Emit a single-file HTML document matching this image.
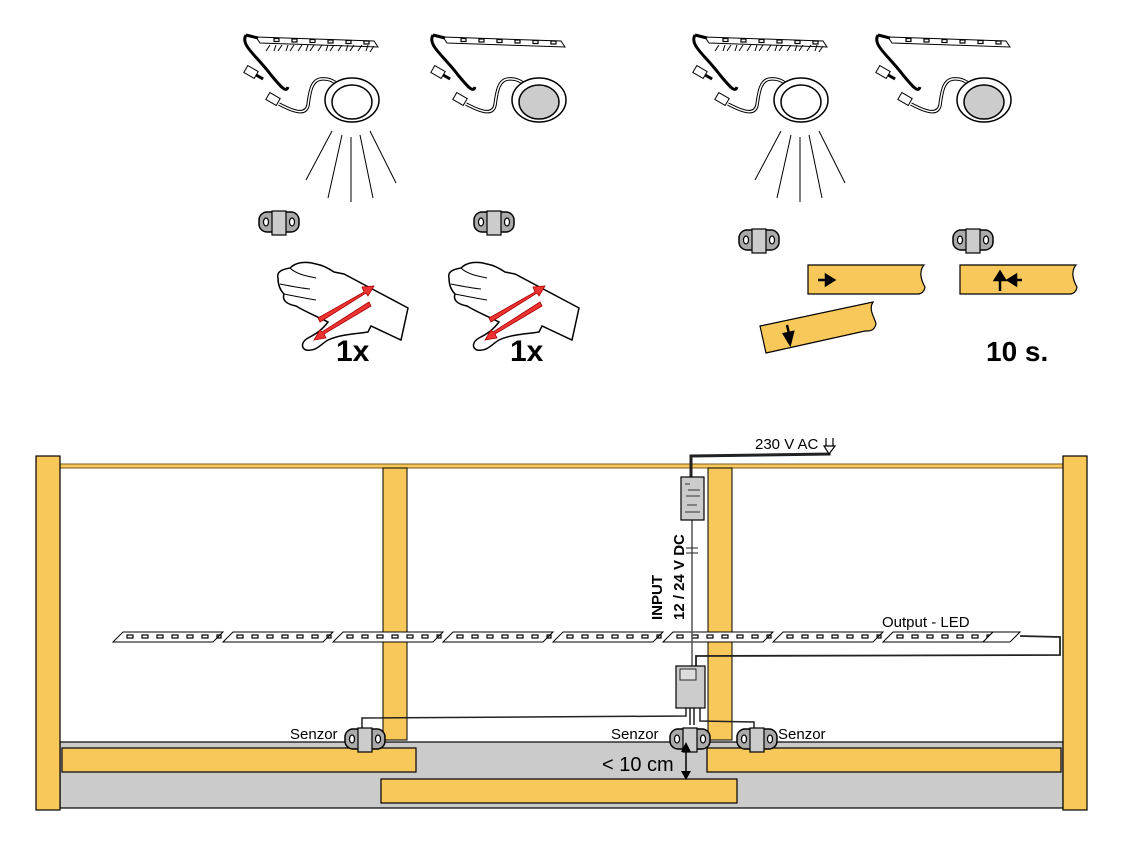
<!DOCTYPE html>
<html><head><meta charset="utf-8"><style>
html,body{margin:0;padding:0;background:#fff}
svg{display:block}
text{font-family:"Liberation Sans",sans-serif}
</style></head><body>
<svg width="1122" height="852" viewBox="0 0 1122 852" xmlns="http://www.w3.org/2000/svg">
<defs>
  <g id="strip">
    <path d="M10,2 L128,6 L132,12 L14,8 Z" fill="#fff" stroke="#000" stroke-width="1"/>
    <g fill="none" stroke="#000" stroke-width="1.2">
      <rect x="28" y="3.5" width="5" height="3"/><rect x="46" y="4" width="5" height="3"/><rect x="64" y="4.5" width="5" height="3"/><rect x="82" y="5" width="5" height="3"/><rect x="100" y="5.5" width="5" height="3"/><rect x="118" y="6" width="5" height="3"/>
    </g>
    <path d="M0,0 C-6,10 10,20 25,40 C35,52 40,58 42,52" fill="none" stroke="#000" stroke-width="3"/>
    <path d="M0,0 L12,3" stroke="#000" stroke-width="3"/>
    <g transform="translate(5,37) rotate(30)"><rect x="-6" y="-4" width="12" height="8" fill="#fff" stroke="#000"/><line x1="6" y1="0" x2="14" y2="0" stroke="#000" stroke-width="3"/></g>
    <g transform="translate(27,64) rotate(30)"><rect x="-6" y="-4" width="12" height="8" fill="#fff" stroke="#000"/></g>
    <path d="M33,69 C50,78 60,80 62,70 C64,55 66,45 75,44 C85,43 90,48 95,52" fill="none" stroke="#000" stroke-width="3.5"/>
    <path d="M33,69 C50,78 60,80 62,70 C64,55 66,45 75,44 C85,43 90,48 95,52" fill="none" stroke="#fff" stroke-width="1.5"/>
    <ellipse cx="106" cy="65" rx="27" ry="22" fill="#fff" stroke="#000" stroke-width="1.5"/>
  </g>
  <g id="rays" fill="none" stroke="#000" stroke-width="1">
    <path d="M24,10 L20,16 M30,10 L28,16 M36,10 L32,16 M42,10 L40,16 M48,10 L44,16 M56,10 L52,16 M62,10 L60,16 M68,10 L64,16 M76,10 L72,16 M82,10 L80,16 M88,10 L84,16 M96,10 L92,16 M102,10 L100,16 M108,10 L104,16 M116,10 L112,16 M122,10 L120,16 M128,11 L124,17"/>
    <path d="M86,96 L60,145 M96,100 L82,163 M105,102 L105,167 M114,100 L127,163 M124,96 L150,148"/>
  </g>
  <g id="sensor">
    <rect x="0" y="0" width="40" height="20" rx="8" fill="#aaa" stroke="#000" stroke-width="1.5"/>
    <rect x="13" y="-1" width="14" height="24" fill="#ccc" stroke="#000" stroke-width="1.2"/>
    <ellipse cx="7" cy="10" rx="2.5" ry="4" fill="#fff" stroke="#000" stroke-width="1.2"/>
    <ellipse cx="33" cy="10" rx="2.5" ry="4" fill="#fff" stroke="#000" stroke-width="1.2"/>
  </g>
  <g id="hand">
    <path d="M2,22 C0,15 8,13 14,12 C20,6 30,5 40,8 C46,9 52,12 58,16 L68,18 L132,52 L125,84 L95,70 L92,76 C80,78 65,78 52,84 C45,88 40,96 30,94 C25,92 25,86 32,82 C40,78 46,74 52,66 C40,60 30,56 20,50 C10,48 6,44 8,38 C4,34 2,28 2,22 Z" fill="#fff" stroke="#000" stroke-width="1.5"/>
    <path d="M14,12 C20,18 30,20 40,22 M4,28 C14,30 24,32 34,33 M8,38 C18,40 28,42 40,44" fill="none" stroke="#000" stroke-width="1"/>
    <path d="M42,62 L88,36 L86,31 L98,30 L92,40 L90,37 L44,66 Z" fill="#e33" stroke="#a00" stroke-width="0.8"/>
    <path d="M95,50 L48,78 L50,82 L38,84 L44,74 L46,76 L93,46 Z" fill="#e33" stroke="#a00" stroke-width="0.8"/>
  </g>
  <g id="led">
    <path d="M0,10 L10,0 L110,0 L100,10 Z" fill="#fff" stroke="#000" stroke-width="1"/>
    <g fill="none" stroke="#000" stroke-width="1.2"><rect x="14" y="3" width="6" height="3"/><rect x="29" y="3" width="6" height="3"/><rect x="44" y="3" width="6" height="3"/><rect x="59" y="3" width="6" height="3"/><rect x="74" y="3" width="6" height="3"/><rect x="89" y="3" width="6" height="3"/><rect x="104" y="3" width="4" height="3"/></g>
  </g>
</defs>

<g transform="translate(246,35)"><use href="#strip"/><use href="#rays"/><ellipse cx="106" cy="67" rx="20" ry="17" fill="#fff" stroke="#000" stroke-width="1.5"/></g>
<g transform="translate(433,35)"><use href="#strip"/><ellipse cx="106" cy="67" rx="20" ry="17" fill="#ccc" stroke="#000" stroke-width="1.5"/></g>
<g transform="translate(695,35)"><use href="#strip"/><use href="#rays"/><ellipse cx="106" cy="67" rx="20" ry="17" fill="#fff" stroke="#000" stroke-width="1.5"/></g>
<g transform="translate(878,35)"><use href="#strip"/><ellipse cx="106" cy="67" rx="20" ry="17" fill="#ccc" stroke="#000" stroke-width="1.5"/></g>

<use href="#sensor" x="259" y="212"/>
<use href="#sensor" x="474" y="212"/>
<use href="#sensor" x="739" y="230"/>
<use href="#sensor" x="953" y="230"/>

<use href="#hand" x="276" y="256"/>
<use href="#hand" x="447" y="256"/>
<text x="336" y="361" font-size="30" font-weight="bold">1x</text>
<text x="510" y="361" font-size="30" font-weight="bold">1x</text>
<text x="986" y="361" font-size="28" font-weight="bold">10 s.</text>

<path d="M808,265 L924,265 C918,272 922,282 925,287 C924,293 920,294 918,294 L808,294 Z" fill="#f9c85a" stroke="#000" stroke-width="1.2"/>
<path d="M960,265 L1076,265 C1070,272 1074,282 1077,287 C1076,293 1072,294 1070,294 L960,294 Z" fill="#f9c85a" stroke="#000" stroke-width="1.2"/>
<path d="M760,326 L873,302 C868,310 875,318 876,324 C874,332 868,331 865,331 L766,353 Z" fill="#f9c85a" stroke="#000" stroke-width="1.2"/>
<path d="M818,280 L830,280 M826,275 L834,280 L826,285 Z" stroke="#000" stroke-width="2.5" fill="#000"/>
<path d="M1000,291 L1000,276 M995,280 L1000,272 L1005,280 Z" stroke="#000" stroke-width="2.5" fill="#000"/>
<path d="M1022,280 L1012,280 M1016,275 L1008,280 L1016,285 Z" stroke="#000" stroke-width="2.5" fill="#000"/>
<path d="M787,325 L790,338 M784,334 L790,344 L793,332 Z" stroke="#000" stroke-width="2.5" fill="#000"/>

<rect x="60" y="742" width="1003" height="66" fill="#cbcbcb" stroke="#000" stroke-width="1.2"/>
<rect x="60" y="464" width="1003" height="4" fill="#f9c85a" stroke="#7a5a20" stroke-width="1"/>
<rect x="36" y="456" width="24" height="354" fill="#f9c85a" stroke="#000" stroke-width="1.2"/>
<rect x="1063" y="456" width="24" height="354" fill="#f9c85a" stroke="#000" stroke-width="1.2"/>
<rect x="383" y="468" width="24" height="272" fill="#f9c85a" stroke="#000" stroke-width="1"/>
<rect x="708" y="468" width="24" height="272" fill="#f9c85a" stroke="#000" stroke-width="1"/>
<rect x="62" y="748" width="354" height="24" fill="#f9c85a" stroke="#000" stroke-width="1.2"/>
<rect x="707" y="748" width="354" height="24" fill="#f9c85a" stroke="#000" stroke-width="1.2"/>
<rect x="381" y="779" width="356" height="24" fill="#f9c85a" stroke="#000" stroke-width="1.2"/>

<g>
  <use href="#led" x="113" y="632"/><use href="#led" x="223" y="632"/><use href="#led" x="333" y="632"/><use href="#led" x="443" y="632"/><use href="#led" x="553" y="632"/><use href="#led" x="663" y="632"/><use href="#led" x="773" y="632"/><use href="#led" x="883" y="632"/>
  <path d="M993,632 L1020,632 L1010,642 L983,642 Z" fill="#fff" stroke="#000" stroke-width="1"/>
</g>

<g fill="none" stroke="#222">
  <path d="M691,478 L691,456 L829,454 L829,446" stroke-width="3"/>
  <path d="M692,520 L692,683" stroke-width="1.5" stroke="#555"/>
  <path d="M686,548 L698,548 M686,553 L698,553" stroke-width="1"/>
  <path d="M696,667 L696,656 L1060,655 L1060,637 L1020,636" stroke-width="1.8"/>
  <path d="M686,707 L686,716 L362,718 L362,731" stroke-width="1.5"/>
  <path d="M690,707 L690,725 M694,707 L694,725" stroke-width="1.5"/>
  <path d="M700,707 L700,721 L754,722 L754,731" stroke-width="1.5"/>
</g>
<path d="M826,446 L826,438 M833,446 L833,438 M824,446 L835,446 L829,454 Z" fill="#fff" stroke="#000" stroke-width="1.2"/>
<rect x="681" y="477" width="23" height="43" fill="#ccc" stroke="#000" stroke-width="1.2"/>
<g stroke="#000" stroke-width="0.8"><path d="M685,484 L690,484 M688,490 L700,490 M686,496 L700,496 M687,505 L697,505 M685,512 L700,512"/></g>
<rect x="676" y="666" width="29" height="42" fill="#ccc" stroke="#000" stroke-width="1.2"/>
<rect x="680" y="669" width="16" height="11" fill="#ddd" stroke="#000" stroke-width="0.8"/>

<use href="#sensor" x="345" y="729"/>
<use href="#sensor" x="670" y="729"/>
<use href="#sensor" x="737" y="729"/>

<path d="M686,746 L686,776" stroke="#000" stroke-width="1.5"/>
<path d="M681,752 L686,742 L691,752 Z M681,771 L686,780 L691,771 Z" fill="#000"/>

<text x="755" y="449" font-size="15">230 V AC</text>
<text x="882" y="627" font-size="15">Output - LED</text>
<text x="290" y="739" font-size="15">Senzor</text>
<text x="611" y="739" font-size="15">Senzor</text>
<text x="778" y="739" font-size="15">Senzor</text>
<text x="602" y="771" font-size="20">&lt; 10 cm</text>
<text transform="translate(662,620) rotate(-90)" font-size="15" font-weight="bold">INPUT</text>
<text transform="translate(684,620) rotate(-90)" font-size="15" font-weight="bold">12 / 24 V DC</text>
</svg>
</body></html>
